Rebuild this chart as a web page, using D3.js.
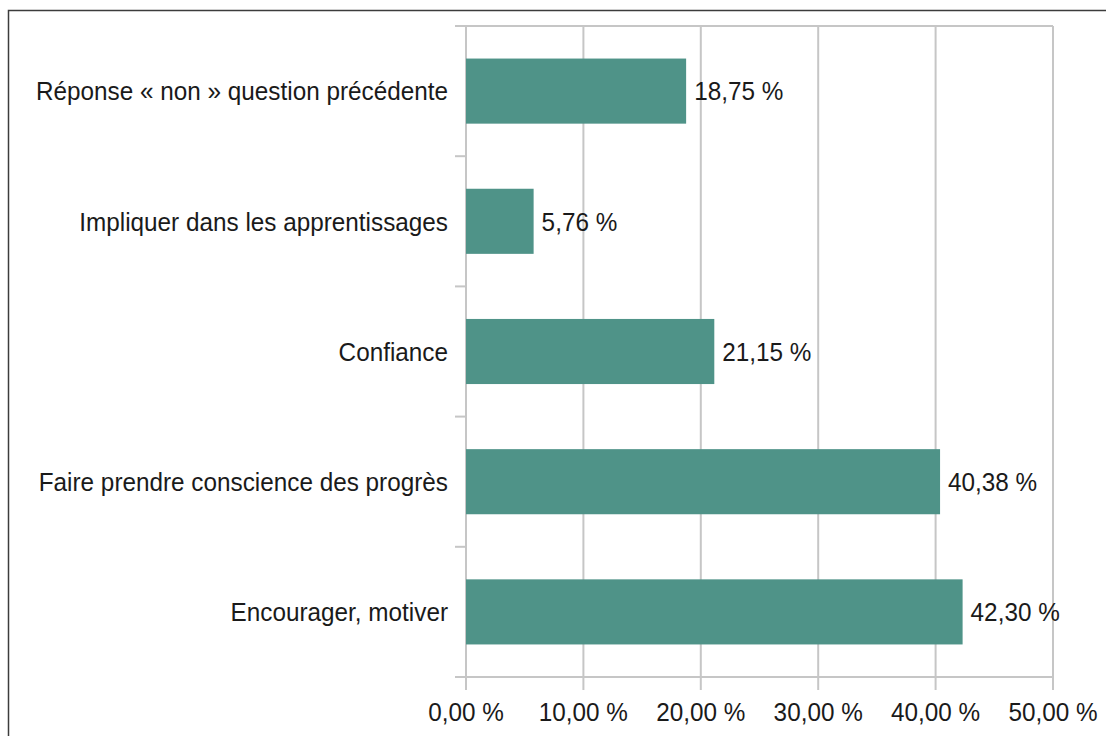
<!DOCTYPE html>
<html>
<head>
<meta charset="utf-8">
<script src="https://cdn.jsdelivr.net/npm/d3@7"></script>
<style>
body{margin:0;background:#fff;}
text{font-family:"Liberation Sans Narrow","Arial Narrow","Liberation Sans",sans-serif;fill:#1a1a1a;}
</style>
</head>
<body>
<svg id="chart" width="1106" height="736"></svg>
<script>
var categories=['Réponse « non » question précédente','Impliquer dans les apprentissages','Confiance','Faire prendre conscience des progrès','Encourager, motiver'];
var values=[18.75,5.76,21.15,40.38,42.30];
var xTicks=[0,10,20,30,40,50];

var plotLeft=466,plotRight=1053,plotTop=26,plotBottom=677;
var fontSize=26,squeeze=0.935;

var svg=d3.select('#chart');

// outer frame
svg.append('rect')
    .attr('x',8.5).attr('y',10.5)
    .attr('width',1120).attr('height',760)
    .attr('fill','none')
    .attr('stroke','#3c3c3c')
    .attr('stroke-width',1.5);

var x=d3.scaleLinear().domain([0,50]).range([plotLeft,plotRight]);
var y=d3.scaleBand().domain(categories).range([plotTop,plotBottom]).paddingInner(0.5).paddingOuter(0.25);

var fmt=function(v){return d3.format('.2f')(v).replace('.',',')+' %';};
var place=function(px,py){return 'translate('+px+','+py+') scale('+squeeze+',1)';};

// vertical gridlines
svg.selectAll('.grid')
    .data(xTicks)
    .enter()
    .append('line')
    .attr('x1',d=>x(d)).attr('x2',d=>x(d))
    .attr('y1',plotTop).attr('y2',plotBottom+13)
    .attr('stroke','#c6c6c6')
    .attr('stroke-width',2);

// top border of plot area
svg.append('line')
    .attr('x1',plotLeft).attr('x2',plotRight)
    .attr('y1',plotTop).attr('y2',plotTop)
    .attr('stroke','#c6c6c6').attr('stroke-width',2);

// bottom axis line
svg.append('line')
    .attr('x1',plotLeft-11).attr('x2',plotRight)
    .attr('y1',plotBottom).attr('y2',plotBottom)
    .attr('stroke','#c6c6c6').attr('stroke-width',2);

// category ticks (band boundaries)
var bounds=d3.range(categories.length+1).map(i=>plotTop+i*(plotBottom-plotTop)/categories.length);
svg.selectAll('.ytick')
    .data(bounds)
    .enter()
    .append('line')
    .attr('x1',plotLeft-11).attr('x2',plotLeft)
    .attr('y1',d=>d).attr('y2',d=>d)
    .attr('stroke','#c6c6c6').attr('stroke-width',2);

// bars
svg.selectAll('.bar')
    .data(values)
    .enter()
    .append('rect')
    .attr('x',x(0))
    .attr('y',(d,i)=>y(categories[i]))
    .attr('width',d=>x(d)-x(0))
    .attr('height',y.bandwidth())
    .attr('fill','#4f9388');

// value labels
svg.selectAll('.val')
    .data(values)
    .enter()
    .append('text')
    .attr('transform',(d,i)=>place(x(d)+8,y(categories[i])+y.bandwidth()/2))
    .attr('dy','0.36em')
    .attr('font-size',fontSize)
    .text(d=>fmt(d));

// category labels
svg.selectAll('.cat')
    .data(categories)
    .enter()
    .append('text')
    .attr('transform',d=>place(plotLeft-18,y(d)+y.bandwidth()/2))
    .attr('dy','0.36em')
    .attr('text-anchor','end')
    .attr('font-size',fontSize)
    .text(d=>d);

// x tick labels
svg.selectAll('.xlab')
    .data(xTicks)
    .enter()
    .append('text')
    .attr('transform',d=>place(x(d),721))
    .attr('text-anchor','middle')
    .attr('font-size',fontSize)
    .text(d=>fmt(d));
</script>
</body>
</html>
